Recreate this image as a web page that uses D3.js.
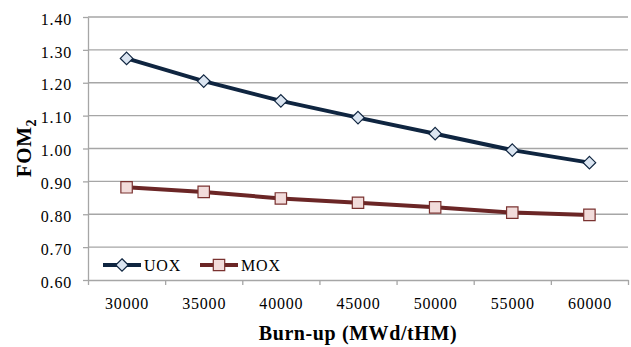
<!DOCTYPE html>
<html>
<head>
<meta charset="utf-8">
<script src="https://cdn.jsdelivr.net/npm/d3@7"></script>
<style>
  html, body { margin: 0; padding: 0; background: #fff; }
  svg { display: block; }
  text { font-family: "Liberation Serif", "Times New Roman", serif; fill: #000; }
</style>
</head>
<body>
<svg id="chart" width="631" height="347"></svg>
<script>
// Burn-up steps (MWd/tHM)
const burnup = [30000, 35000, 40000, 45000, 50000, 55000, 60000];
// FOM2 for each fuel type
const uoxValues = [1.274, 1.205, 1.145, 1.094, 1.045, 0.995, 0.957];
const moxValues = [0.882, 0.868, 0.848, 0.835, 0.821, 0.805, 0.798];
// Axis ticks
const yTicks = [0.60, 0.70, 0.80, 0.90, 1.00, 1.10, 1.20, 1.30, 1.40];
const seriesNames = ["UOX", "MOX"];

(function () {
const svg = d3.select("#chart");
const plotLeft = 88, plotRight = 628, plotTop = 17, plotBottom = 280;

// Categories sit in the middle of 5000-wide bins
const x = d3.scaleLinear().domain([27500, 62500]).range([plotLeft, plotRight]);
const y = d3.scaleLinear().domain([0.6, 1.4]).range([plotBottom, plotTop]);

const gridColor = "#a6a6a6";

// Horizontal gridlines
svg.append("g")
  .selectAll("line")
  .data(yTicks.slice(1))
  .join("line")
  .attr("x1", plotLeft).attr("x2", plotRight)
  .attr("y1", d => y(d)).attr("y2", d => y(d))
  .attr("stroke", gridColor).attr("stroke-width", 1.3);

// Y axis
const yAxis = svg.append("g")
  .attr("transform", `translate(${plotLeft},0)`)
  .call(d3.axisLeft(y).tickValues(yTicks).tickFormat(d3.format(".2f")).tickSize(5).tickSizeOuter(0).tickPadding(11));
yAxis.select(".domain").attr("stroke", gridColor).attr("stroke-width", 1.3);
yAxis.selectAll(".tick line").attr("stroke", gridColor).attr("stroke-width", 1.3);
yAxis.selectAll(".tick text")
  .attr("font-size", 16).attr("letter-spacing", 0.8).attr("dy", "0.45em")
  .style("font-family", "'Liberation Serif', serif");

// X axis: tick marks at bin boundaries
const bounds = d3.range(0, burnup.length + 1).map(i => 27500 + 5000 * i);
const xAxis = svg.append("g")
  .attr("transform", `translate(0,${plotBottom})`)
  .call(d3.axisBottom(x).tickValues(bounds).tickFormat("").tickSize(5).tickSizeOuter(0));
xAxis.select(".domain").attr("stroke", gridColor).attr("stroke-width", 1.3);
xAxis.selectAll(".tick line").attr("stroke", gridColor).attr("stroke-width", 1.3);

// X category labels
const xLabels = svg.append("g")
  .attr("transform", `translate(0,${plotBottom})`)
  .call(d3.axisBottom(x).tickValues(burnup).tickFormat(d3.format("d")).tickSize(0).tickPadding(18));
xLabels.select(".domain").remove();
xLabels.selectAll(".tick text")
  .attr("font-size", 16).attr("letter-spacing", 0.8)
  .style("font-family", "'Liberation Serif', serif");

// Axis titles
svg.append("text")
  .attr("x", (plotLeft + plotRight) / 2).attr("y", 340)
  .attr("text-anchor", "middle")
  .attr("font-size", 20).attr("font-weight", "bold").attr("letter-spacing", 0.6)
  .text("Burn-up (MWd/tHM)");

const yTitle = svg.append("text")
  .attr("transform", `translate(31,148) rotate(-90)`)
  .attr("text-anchor", "middle")
  .attr("font-size", 21).attr("font-weight", "bold").attr("letter-spacing", 0.6);
yTitle.append("tspan").text("FOM");
yTitle.append("tspan").attr("font-size", 14).attr("dy", 5).text("2");

// Series
const uoxColor = "#0f2540", uoxFill = "#dbe5f1";
const moxColor = "#6b2626", moxFill = "#f2dcdb", moxEdge = "#7a3230";

const line = d3.line().x((d, i) => x(burnup[i])).y(d => y(d));

svg.append("path").datum(uoxValues)
  .attr("d", line).attr("fill", "none")
  .attr("stroke", uoxColor).attr("stroke-width", 4).attr("stroke-linejoin", "round");
svg.append("path").datum(moxValues)
  .attr("d", line).attr("fill", "none")
  .attr("stroke", moxColor).attr("stroke-width", 4).attr("stroke-linejoin", "round");

const diamond = d3.symbol().type(d3.symbolDiamond2).size(100);
const square = d3.symbol().type(d3.symbolSquare).size(130);

svg.append("g").selectAll("path")
  .data(uoxValues).join("path")
  .attr("transform", (d, i) => `translate(${x(burnup[i])},${y(d)})`)
  .attr("d", diamond)
  .attr("fill", uoxFill).attr("stroke", uoxColor).attr("stroke-width", 1.2);

svg.append("g").selectAll("path")
  .data(moxValues).join("path")
  .attr("transform", (d, i) => `translate(${x(burnup[i])},${y(d)})`)
  .attr("d", square)
  .attr("fill", moxFill).attr("stroke", moxEdge).attr("stroke-width", 1.2);

// Legend
const legend = [
  { name: seriesNames[0], x0: 103, color: uoxColor, fill: uoxFill, sym: diamond, stroke: uoxColor },
  { name: seriesNames[1], x0: 200, color: moxColor, fill: moxFill, sym: square, stroke: moxEdge }
];
const ly = 265;
const lg = svg.append("g").selectAll("g").data(legend).join("g")
  .attr("transform", d => `translate(${d.x0},${ly})`);
lg.append("line").attr("x1", 0).attr("x2", 38).attr("y1", 0).attr("y2", 0)
  .attr("stroke", d => d.color).attr("stroke-width", 4);
lg.append("path").attr("transform", "translate(19,0)")
  .attr("d", d => d.sym())
  .attr("fill", d => d.fill).attr("stroke", d => d.stroke).attr("stroke-width", 1.2);
lg.append("text").attr("x", 41).attr("y", 6)
  .attr("font-size", 16).attr("letter-spacing", 0.8)
  .text(d => d.name);
})();
</script>
</body>
</html>
